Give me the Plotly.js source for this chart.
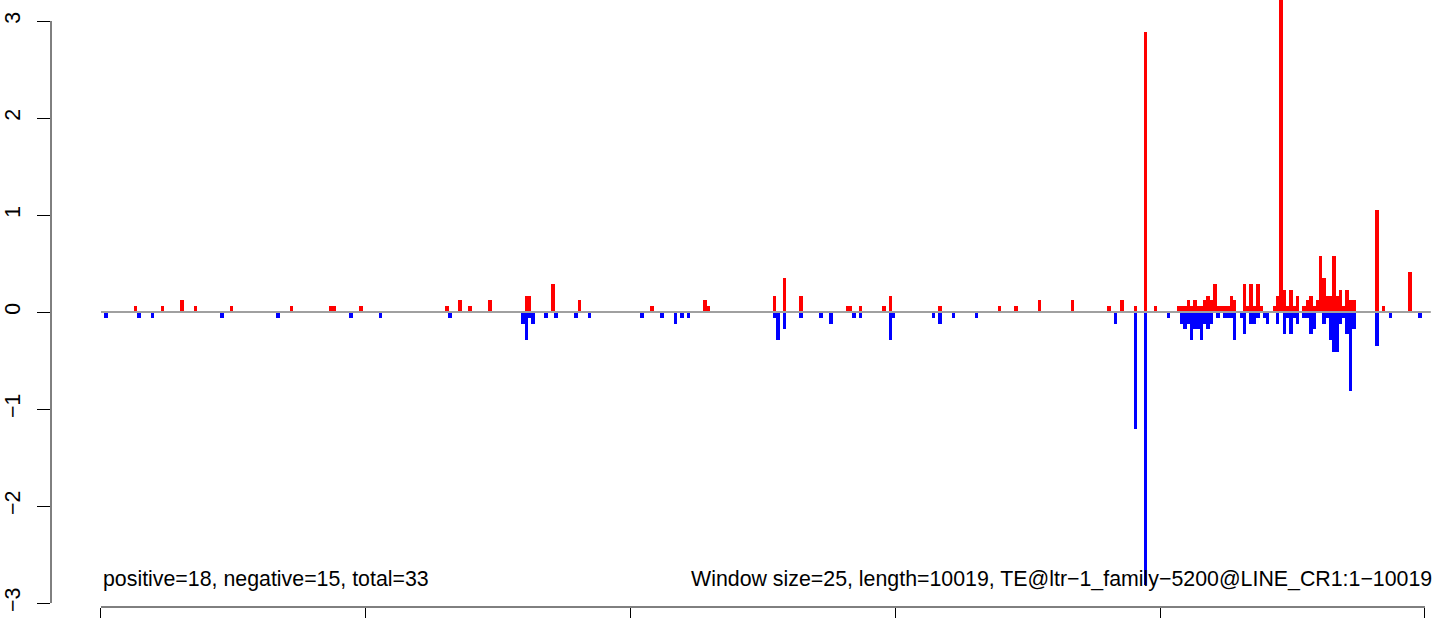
<!DOCTYPE html>
<html>
<head>
<meta charset="utf-8">
<script src="https://cdn.plot.ly/plotly-3.0.1.min.js"></script>
<style>html,body{margin:0;padding:0;background:#fff;}#chart{width:1444px;height:618px;}</style>
</head>
<body>
<div id="chart"></div>
<script>
// ---- data (window index, value) ----
const windowSize = 25;
const seqLength = 10019;
const redWin = [10,18,24,28,39,57,69,70,78,104,108,111,117,128,129,136,144,166,182,183,
  203,206,211,225,226,229,236,238,253,271,276,283,293,304,308,312,315,318,325,
  326,327,328,329,330,331,332,333,334,335,336,337,338,339,340,341,342,345,346,347,348,349,350,354,355,356,
  357,358,359,360,361,363,364,365,366,367,368,369,370,371,372,373,374,375,376,377,378,385,387,395];
const redVal = [0.06,0.06,0.12,0.06,0.06,0.06,0.06,0.06,0.06,0.06,0.12,0.06,0.12,0.17,0.17,0.285,0.12,0.06,0.12,0.06,
  0.17,0.35,0.17,0.06,0.06,0.06,0.06,0.17,0.06,0.06,0.06,0.12,0.12,0.06,0.12,0.06,2.89,0.06,0.06,
  0.06,0.06,0.12,0.06,0.12,0.06,0.06,0.12,0.17,0.12,0.285,0.06,0.06,0.06,0.06,0.17,0.12,0.285,0.06,0.285,0.06,0.285,0.06,0.06,0.17,3.5,
  0.23,0.06,0.23,0.06,0.17,0.06,0.12,0.17,0.06,0.12,0.58,0.35,0.17,0.17,0.58,0.17,0.23,0.06,0.23,0.12,0.12,1.05,0.06,0.41];
const blueWin = [1,11,15,36,53,75,84,105,127,128,129,130,134,137,143,147,163,169,173,175,177,
  203,204,206,211,217,220,227,229,238,239,251,253,257,264,306,312,315,322,
  326,327,328,329,330,331,332,333,334,335,337,339,340,341,342,344,345,347,348,349,351,352,355,
  357,358,359,360,361,363,364,365,366,369,370,371,372,373,374,375,376,377,378,385,389,398];
const blueVal = [-0.06,-0.06,-0.06,-0.06,-0.06,-0.06,-0.06,-0.06,-0.12,-0.29,-0.06,-0.12,-0.06,-0.06,-0.06,-0.06,-0.06,-0.06,-0.12,-0.06,-0.06,
  -0.06,-0.29,-0.175,-0.06,-0.06,-0.12,-0.06,-0.06,-0.29,-0.06,-0.06,-0.12,-0.06,-0.06,-0.12,-1.21,-2.81,-0.06,
  -0.12,-0.17,-0.12,-0.29,-0.17,-0.17,-0.29,-0.12,-0.17,-0.12,-0.06,-0.06,-0.06,-0.06,-0.29,-0.06,-0.23,-0.12,-0.12,-0.06,-0.06,-0.12,-0.12,
  -0.23,-0.06,-0.23,-0.06,-0.12,-0.06,-0.06,-0.23,-0.17,-0.12,-0.06,-0.29,-0.41,-0.41,-0.12,-0.06,-0.23,-0.81,-0.17,-0.35,-0.06,-0.06];
const xTicks = [0,2000,4000,6000,8000,10000];
const yTicks = [-3,-2,-1,0,1,2,3];
const yTickText = ['\u22123','\u22122','\u22121','0','1','2','3'];
const leftLabel = 'positive=18, negative=15, total=33';
const rightLabel = 'Window size=25, length=10019, TE@ltr\u22121_family\u22125200@LINE_CR1:1\u221210019';

const toX = w => w * windowSize + windowSize / 2;
const FONT = 'Liberation Sans, Arial, Helvetica, sans-serif';
const FS = 21.35;

const traces = [
  {type:'bar', x: blueWin.map(toX), y: blueVal, width: windowSize + 1,
   marker:{color:'#0000FF', line:{width:0}}, hoverinfo:'x+y', showlegend:false},
  {type:'bar', x: redWin.map(toX), y: redVal, width: windowSize + 1,
   marker:{color:'#FF0000', line:{width:0}}, hoverinfo:'x+y', showlegend:false}
];

const layout = {
  width:1444, height:618,
  margin:{l:51, r:0, t:0, b:11, pad:0},
  paper_bgcolor:'#ffffff', plot_bgcolor:'#ffffff',
  barmode:'overlay', bargap:0,
  font:{family:FONT, size:FS, color:'#000'},
  xaxis:{range:[-377.6, 10143.6], showgrid:false, zeroline:false, showline:false,
    tickmode:'array', tickvals:xTicks, ticks:'outside', ticklen:11, tickwidth:1, tickcolor:'#000',
    showticklabels:false, fixedrange:true},
  yaxis:{range:[-3.041, 3.2165], showgrid:false, zeroline:false, showline:false,
    tickmode:'array', tickvals:yTicks, ticktext:yTickText, ticks:'outside', ticklen:13, tickwidth:1, tickcolor:'#000',
    tickangle:-90, ticklabelstandoff:8, tickfont:{family:FONT, size:FS, color:'#000'}, fixedrange:true},
  shapes:[
    {type:'line', xref:'x', yref:'y', x0:0, x1:seqLength + windowSize, y0:0, y1:0,
     line:{color:'#A0A0A0', width:2}, layer:'above'},
    {type:'line', xref:'x', yref:'paper', x0:xTicks[0], x1:xTicks[xTicks.length-1], y0:0, y1:0,
     line:{color:'#000', width:1}},
    {type:'line', xref:'paper', yref:'y', x0:0, x1:0, y0:yTicks[0], y1:yTicks[yTicks.length-1],
     line:{color:'#000', width:1}}
  ],
  annotations:[
    {text:leftLabel, x:0, y:-2.75, xref:'x', yref:'y', xanchor:'left', yanchor:'middle',
     showarrow:false, font:{family:FONT, size:FS, color:'#000'}},
    {text:rightLabel, x:seqLength, y:-2.75, xref:'x', yref:'y', xanchor:'right', yanchor:'middle', xshift:6,
     showarrow:false, font:{family:FONT, size:FS, color:'#000'}}
  ]
};

Plotly.newPlot('chart', traces, layout, {staticPlot:true, displayModeBar:false});
</script>
</body>
</html>
